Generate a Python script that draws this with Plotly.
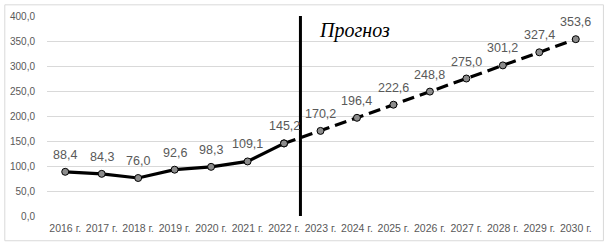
import plotly.graph_objects as go

years = ["2016 г.", "2017 г.", "2018 г.", "2019 г.", "2020 г.", "2021 г.", "2022 г.",
         "2023 г.", "2024 г.", "2025 г.", "2026 г.", "2027 г.", "2028 г.", "2029 г.", "2030 г."]
actual = [88.4, 84.3, 76.0, 92.6, 98.3, 109.1, 145.2]
forecast = [145.2, 170.2, 196.4, 222.6, 248.8, 275.0, 301.2, 327.4, 353.6]
y_ticks = [0, 50, 100, 150, 200, 250, 300, 350, 400]
y_tick_text = ["0,0", "50,0", "100,0", "150,0", "200,0", "250,0", "300,0", "350,0", "400,0"]
forecast_label = "Прогноз"

W, H = 604, 244
ML, MR, MT, MB = 43, 10, 12, 26
PW, PH = W - ML - MR, H - MT - MB

x_act = list(range(len(actual)))
x_fc = list(range(len(actual) - 1, len(years)))

fig = go.Figure()
fig.add_trace(go.Scatter(
    x=x_fc, y=forecast, mode="lines+markers",
    line=dict(color="black", width=3.2, dash="12px,6px"),
    marker=dict(size=7, color="#8c8c8c", line=dict(color="black", width=1)),
    hoverinfo="skip", showlegend=False))
fig.add_trace(go.Scatter(
    x=x_act, y=actual, mode="lines+markers",
    line=dict(color="black", width=3.2),
    marker=dict(size=7, color="#8c8c8c", line=dict(color="black", width=1)),
    hoverinfo="skip", showlegend=False))

def fmt(v):
    return f"{v:.1f}".replace(".", ",")

all_vals = actual + forecast[1:]
for i, v in enumerate(all_vals):
    fig.add_annotation(x=i, y=v, text=fmt(v), showarrow=False, yshift=17,
                       font=dict(family="Liberation Sans, Arial", size=12.5, color="#595959"))

# separator line
fig.add_shape(type="line", x0=6.45, x1=6.45, y0=0, y1=400, xref="x", yref="y",
              line=dict(color="black", width=3))
fig.add_annotation(x=6.45, y=400, xref="x", yref="y", xanchor="left", yanchor="top",
                   xshift=17, yshift=-1, text=f"<i>{forecast_label}</i>", showarrow=False,
                   font=dict(family="Liberation Serif, Times New Roman", size=20, color="black"))

# outer border
fig.add_shape(type="rect", xref="paper", yref="paper",
              x0=(0.5 - ML) / PW, x1=(W - 0.5 - ML) / PW,
              y0=-(H - 0.5 - MT - PH) / PH, y1=1 + (MT - 0.5) / PH,
              line=dict(color="#d9d9d9", width=1), fillcolor="rgba(0,0,0,0)", layer="below")

fig.update_layout(
    width=W, height=H, margin=dict(l=ML, r=MR, t=MT, b=MB),
    paper_bgcolor="white", plot_bgcolor="white",
    xaxis=dict(range=[-0.5, len(years) - 0.5], tickmode="array",
               tickvals=list(range(len(years))), ticktext=years,
               showgrid=False, zeroline=False, showline=False, ticks="",
               ticklabelstandoff=4,
               tickfont=dict(family="Liberation Sans, Arial", size=10.5, color="#595959"),
               fixedrange=True),
    yaxis=dict(range=[0, 400], tickmode="array", tickvals=y_ticks, ticktext=y_tick_text,
               showgrid=True, gridcolor="#d9d9d9", gridwidth=1, zeroline=False,
               showline=False, ticks="", ticklabelstandoff=11,
               tickfont=dict(family="Liberation Sans, Arial", size=10, color="#595959"),
               fixedrange=True),
)

fig.write_html("out.html")
